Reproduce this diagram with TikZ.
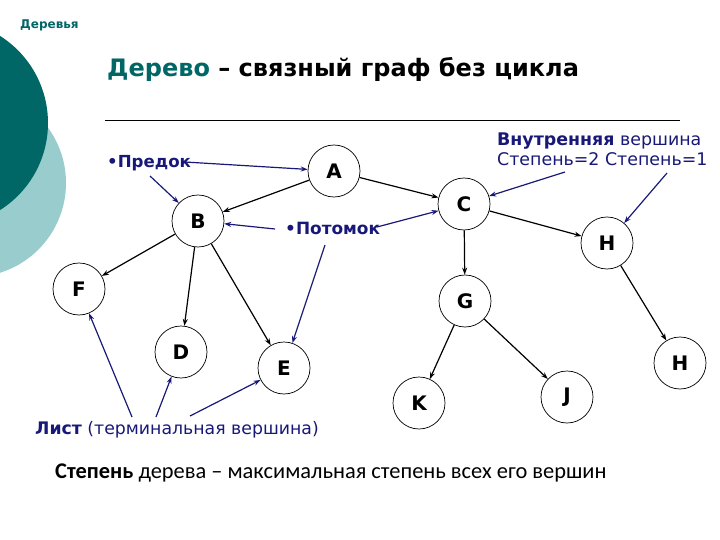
\documentclass[tikz,border=0pt]{standalone}
\usepackage{fontspec}
\setmainfont{DejaVu Sans}
\newfontfamily\calib{Carlito}
\usetikzlibrary{arrows.meta}
\definecolor{tealdark}{RGB}{0,102,102}
\definecolor{teallight}{RGB}{153,204,204}
\definecolor{navyblue}{RGB}{24,24,120}
\begin{document}
\begin{tikzpicture}[x=1pt,y=-1pt,
  vtx/.style={draw,circle,minimum size=52pt,inner sep=0pt,line width=0.7pt,
    font=\bfseries\fontsize{20}{20}\selectfont},
  edge/.style={-{Stealth[length=7pt,width=5pt]},line width=1.2pt},
  note/.style={-{Stealth[length=7pt,width=5pt]},line width=1.2pt,draw=navyblue},
  lab/.style={text=navyblue,inner sep=0pt,anchor=base west,font=\fontsize{17.4}{20}\selectfont}]
\useasboundingbox (0,0) rectangle (720,540);
\clip (0,0) rectangle (720,540);
\fill[teallight] (-28,183) circle[radius=94pt];
\fill[tealdark] (-55,123) circle[radius=103pt];
% header and title
\node[anchor=base west,inner sep=0pt,text=tealdark,font=\bfseries\fontsize{12}{14}\selectfont] (hdr) at (20,29) {Деревья};
\node[anchor=base west,inner sep=0pt,font=\bfseries\fontsize{24}{28}\selectfont] (title) at (107,77) {\textcolor{tealdark}{Дерево} – связный граф без цикла};
\draw[line width=0.8pt] (105,120) coordinate (r1) -- (680,120) coordinate (r2);
% vertices
\node[vtx] (A) at (334,171) {A};
\node[vtx] (B) at (198,221) {B};
\node[vtx] (C) at (464,204) {C};
\node[vtx] (H1) at (607,243) {H};
\node[vtx] (F) at (79,289) {F};
\node[vtx] (G) at (465,301) {G};
\node[vtx] (D) at (181,352) {D};
\node[vtx] (E) at (284,368) {E};
\node[vtx] (H2) at (680,363) {H};
\node[vtx] (K) at (419,403) {K};
\node[vtx] (J) at (567,397) {J};
% tree edges
\draw[edge] (A) -- (B);
\draw[edge] (A) -- (C);
\draw[edge] (B) -- (F);
\draw[edge] (B) -- (D);
\draw[edge] (B) -- (E);
\draw[edge] (C) -- (G);
\draw[edge] (C) -- (H1);
\draw[edge] (H1) -- (H2);
\draw[edge] (G) -- (K);
\draw[edge] (G) -- (J);
% labels
\node[lab,font=\bfseries\fontsize{16.6}{20}\selectfont] (pred) at (107,168) {•Предок};
\node[lab,font=\bfseries\fontsize{16.9}{20}\selectfont] (pot) at (285,235) {•Потомок};
\node[lab] (vn1) at (497,146) {\textbf{Внутренняя} вершина};
\node[lab] (vn2) at (497,166) {Степень=2 Степень=1};
\node[lab,font=\fontsize{17.3}{20}\selectfont] (list) at (35,434) {\textbf{Лист} (терминальная вершина)};
\node[anchor=base west,inner sep=0pt,font=\calib\fontsize{22.4}{26}\selectfont] (deg) at (55,478) {\textbf{Степень} дерева – максимальная степень всех его вершин};
% annotation arrows
\coordinate (p0) at (185,162);
\coordinate (p1) at (150,176);
\coordinate (q0) at (275,229);
\coordinate (q1) at (377,227);
\coordinate (q2) at (325,245);
\coordinate (v0) at (565,172);
\coordinate (v1) at (667,173);
\coordinate (l0) at (132,417);
\coordinate (l1) at (156,417);
\coordinate (l2) at (190,416);
\draw[note] (p0) -- (A);
\draw[note] (p1) -- (B);
\draw[note] (q0) -- (B);
\draw[note] (q1) -- (C);
\draw[note] (q2) -- (E);
\draw[note] (v0) -- (C);
\draw[note] (v1) -- (H1);
\draw[note] (l0) -- (F);
\draw[note] (l1) -- (D);
\draw[note] (l2) -- (E);
\end{tikzpicture}
\end{document}
